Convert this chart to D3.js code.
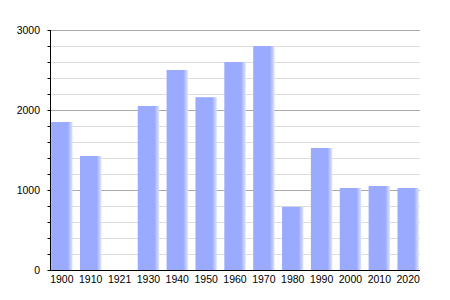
<!DOCTYPE html>
<html>
<head>
<meta charset="utf-8">
<script src="https://cdn.jsdelivr.net/npm/d3@7"></script>
<style>
  body { margin: 0; background: #fff; }
  text { font-family: "Liberation Sans", Arial, sans-serif; }
</style>
</head>
<body>
<div id="chart"></div>
<script>
// population by census year
const years = ["1900", "1910", "1921", "1930", "1940", "1950", "1960", "1970", "1980", "1990", "2000", "2010", "2020"];
const population = [1850, 1425, 0, 2050, 2500, 2160, 2600, 2800, 790, 1525, 1025, 1050, 1025];
const majorTicks = [0, 1000, 2000, 3000];

const W = 450, H = 300;
const margin = {top: 30, right: 30, bottom: 30, left: 50};

const svg = d3.select("#chart").append("svg")
  .attr("width", W).attr("height", H);

const x = d3.scaleBand()
  .domain(years)
  .range([margin.left, W - margin.right])
  .paddingInner(0.26)
  .paddingOuter(0.04);

const y = d3.scaleLinear()
  .domain([0, 3000])
  .range([H - margin.bottom, margin.top]);

// fade on right edge of the bars
const grad = svg.append("defs").append("linearGradient")
  .attr("id", "barfade").attr("x1", 0).attr("x2", 1).attr("y1", 0).attr("y2", 0);
grad.append("stop").attr("offset", "0%").attr("stop-color", "#99aaff");
grad.append("stop").attr("offset", "78%").attr("stop-color", "#99aaff");
grad.append("stop").attr("offset", "100%").attr("stop-color", "#dfe4ff");

// minor grid
svg.append("g")
  .selectAll("line")
  .data(d3.range(200, 3000, 200).filter(v => v % 1000 != 0))
  .join("line")
  .attr("x1", margin.left).attr("x2", W - margin.right)
  .attr("y1", d => y(d) + 0.5).attr("y2", d => y(d) + 0.5)
  .attr("stroke", "#dddddd");

// major grid
svg.append("g")
  .selectAll("line")
  .data(majorTicks.slice(1))
  .join("line")
  .attr("x1", margin.left).attr("x2", W - margin.right)
  .attr("y1", d => y(d) + 0.5).attr("y2", d => y(d) + 0.5)
  .attr("stroke", "#aaaaaa");

svg.append("g")
  .selectAll("rect")
  .data(population)
  .join("rect")
  .attr("x", (d, i) => x(years[i]))
  .attr("y", d => y(d))
  .attr("width", x.bandwidth())
  .attr("height", d => y(0) - y(d))
  .attr("fill", "url(#barfade)");

// y axis with minor ticks
const yAxis = svg.append("g")
  .attr("transform", `translate(${margin.left + 0.5},0)`)
  .call(d3.axisLeft(y).tickValues(d3.range(0, 3001, 200)).tickSize(3).tickFormat(""));
yAxis.select(".domain").attr("d", `M0,${y(3000)}V${y(0)}`).attr("stroke", "#000");
yAxis.selectAll(".tick line").attr("stroke", "#000");

svg.append("g")
  .selectAll("text")
  .data(majorTicks)
  .join("text")
  .attr("x", margin.left - 10)
  .attr("y", d => y(d) + 4)
  .attr("text-anchor", "end")
  .attr("font-size", 10.5)
  .attr("fill", "#000")
  .text(d => d);

// x axis
const xAxis = svg.append("g")
  .attr("transform", `translate(0,${y(0) + 0.5})`)
  .call(d3.axisBottom(x).tickSize(0).tickPadding(5));
xAxis.select(".domain").attr("stroke", "#000").attr("d", `M${margin.left},0H${W - margin.right}`);
xAxis.selectAll("text")
  .attr("font-size", 10.5)
  .attr("fill", "#000")
  .style("font-family", "'Liberation Sans', Arial, sans-serif");
</script>
</body>
</html>
